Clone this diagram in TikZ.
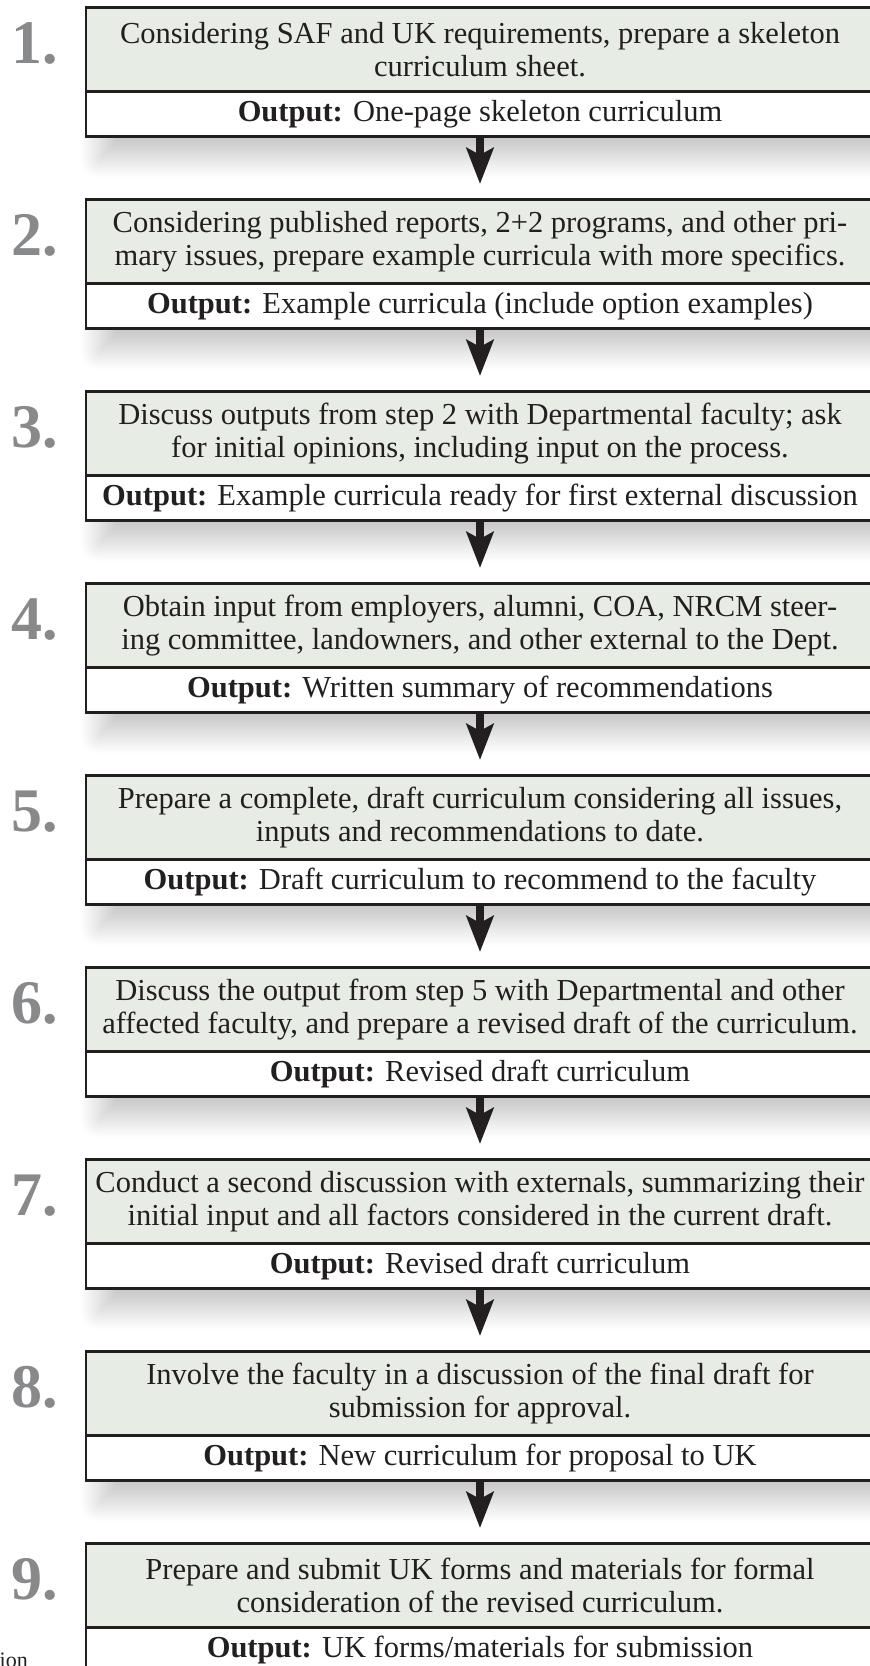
\documentclass[tikz,border=0pt]{standalone}
\usepackage{fontspec}
\setmainfont{Liberation Serif}
\usetikzlibrary{arrows.meta,shadows.blur}
\definecolor{boxgreen}{HTML}{E7ECE4}
\definecolor{numgray}{HTML}{88898B}
\definecolor{linec}{HTML}{231F20}
\newcommand\stepblock[4]{%
  \begin{scope}
    \clip (60,#2+129) rectangle (874,#2+190);
    \path[stepshadow] (86,#2) rectangle (874,#2+129);
  \end{scope}
  \node[stepbody] (s#1) at (480,#2) {#3};
  \node[stepout] (o#1) at (480,#2+84) {\textbf{Output:} #4};
  \node[stepnum] (n#1) at (58,#2+57) {#1.};
}
\begin{document}
\begin{tikzpicture}[x=1pt,y=-1pt,
  stepshadow/.style={fill=white, blur shadow={shadow xshift=14pt, shadow yshift=-23pt, shadow blur radius=20pt, shadow opacity=22, shadow blur steps=25}},
  stepbody/.style={draw=linec, line width=2.6pt, fill=boxgreen, minimum width=788pt, minimum height=84pt, inner sep=0pt, align=center, font=\fontsize{30.5}{33}\selectfont, anchor=north, text=linec},
  stepout/.style={draw=linec, line width=2.6pt, fill=white, minimum width=788pt, minimum height=45pt, inner sep=0pt, align=center, font=\fontsize{30.5}{33}\selectfont, anchor=north, text=linec},
  stepnum/.style={font=\fontsize{62}{62}\selectfont\bfseries, text=numgray, anchor=base east, inner sep=0pt},
  flow/.style={draw=linec, line width=7.5pt, -{Stealth[length=36pt,width=27pt,inset=7pt]}, shorten >=14pt}
]
\useasboundingbox (0,0) rectangle (870,1666);
\clip (0,0) rectangle (870,1666);
\stepblock{1}{6}{Considering SAF and UK requirements, prepare a skeleton\\curriculum sheet.}{One-page skeleton curriculum}
\stepblock{2}{198}{Considering published reports, 2+2 programs, and other pri-\\mary issues, prepare example curricula with more specifics.}{Example curricula (include option examples)}
\stepblock{3}{390}{Discuss outputs from step 2 with Departmental faculty; ask\\for initial opinions, including input on the process.}{Example curricula ready for first external discussion}
\stepblock{4}{582}{Obtain input from employers, alumni, COA, NRCM steer-\\ing committee, landowners, and other external to the Dept.}{Written summary of recommendations}
\stepblock{5}{774}{Prepare a complete, draft curriculum considering all issues,\\inputs and recommendations to date.}{Draft curriculum to recommend to the faculty}
\stepblock{6}{966}{Discuss the output from step 5 with Departmental and other\\affected faculty, and prepare a revised draft of the curriculum.}{Revised draft curriculum}
\stepblock{7}{1158}{Conduct a second discussion with externals, summarizing their\\initial input and all factors considered in the current draft.}{Revised draft curriculum}
\stepblock{8}{1350}{Involve the faculty in a discussion of the final draft for\\submission for approval.}{New curriculum for proposal to UK}
\stepblock{9}{1542}{Prepare and submit UK forms and materials for formal\\consideration of the revised curriculum.}{UK forms/materials for submission}
\foreach \a/\b in {1/2,2/3,3/4,4/5,5/6,6/7,7/8,8/9}{
  \draw[flow] (o\a.south) -- (s\b.north);
}
\node[font=\fontsize{22}{22}\selectfont, anchor=base east, inner sep=0pt, text=linec] (ion) at (28,1667) {ion};
\end{tikzpicture}
\end{document}
